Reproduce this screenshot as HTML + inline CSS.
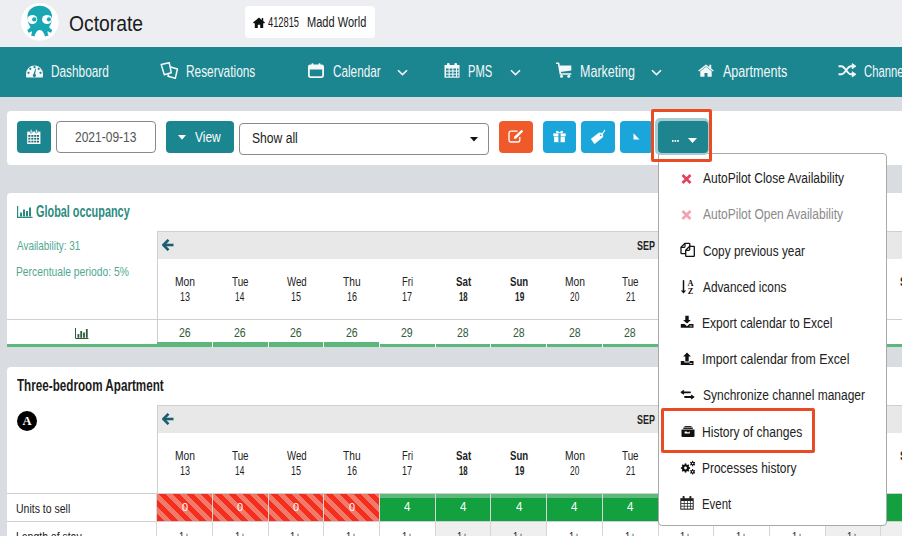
<!DOCTYPE html>
<html><head><meta charset="utf-8"><title>Octorate calendar</title>
<style>html,body{margin:0;padding:0;width:902px;height:536px;overflow:hidden;position:relative;background:#d9dce1;font-family:"Liberation Sans",sans-serif}</style>
</head><body>
<div style="position:absolute;left:0px;top:0px;width:902px;height:47px;background:#edeef2"></div>
<div style="position:absolute;left:0px;top:47px;width:902px;height:50px;background:#1b8590"></div>
<div style="position:absolute;left:0px;top:97px;width:902px;height:439px;background:#d9dce1"></div>
<svg style="position:absolute;left:20px;top:2px" width="40" height="40" viewBox="0 0 40 40">
<circle cx="19.8" cy="19.9" r="18.8" fill="#fff"/>
<path d="M19.7 3.7 C13 3.7 7.5 8 7.5 14 L8 20 C9 23 10 24 10.5 25 C9.5 26.5 8 27.5 7.3 28 L8.5 30.8 C10 30.2 11 29.6 12 29.2 C12 31 11.5 32.5 11 33.6 L14.6 34.6 C15 31.5 17 28 19.7 28 C22.5 28 24.5 31.5 25 34.6 L28.6 33.6 C28 32.5 27.5 31 27.5 29.2 C28.5 29.6 29.5 30.2 31 30.8 L32.3 28 C31.5 27.5 30 26.5 29 25 C29.5 24 30.5 23 31.5 20 L32 14 C32 8 26.5 3.7 19.7 3.7 Z" fill="#1aa7b4"/>
<ellipse cx="12.4" cy="17.5" rx="4.8" ry="4.5" fill="#fff"/>
<ellipse cx="27" cy="17.5" rx="5" ry="4.6" fill="#fff"/>
<circle cx="14.2" cy="17.4" r="2.1" fill="#1aa7b4"/>
<circle cx="28.9" cy="17.4" r="2.1" fill="#1aa7b4"/>
</svg>
<span style="position:absolute;white-space:nowrap;font-family:'Liberation Sans',sans-serif;font-size:22.32px;line-height:22.32px;font-weight:normal;color:#1b1b1b;left:69.13px;top:12.63px;transform:scaleX(0.8656);transform-origin:0 0">Octorate</span>
<div style="position:absolute;left:245px;top:6px;width:130px;height:32px;background:#fff;border-radius:4px"></div>
<svg style="position:absolute;left:253px;top:16.5px" width="12" height="11" viewBox="0 0 12 11"><path d="M6 0.5 L0 5.6 L1 6.6 L1.8 6 L1.8 11 L4.8 11 L4.8 7.8 L7.2 7.8 L7.2 11 L10.2 11 L10.2 6 L11 6.6 L12 5.6 L10.2 4.1 L10.2 1 L8.8 1 L8.8 2.9 Z" fill="#111"/></svg>
<span style="position:absolute;white-space:nowrap;font-family:'Liberation Sans',sans-serif;font-size:14.49px;line-height:14.49px;font-weight:normal;color:#1b1b1b;left:268.00px;top:14.98px;transform:scaleX(0.6421);transform-origin:0 0">412815</span>
<span style="position:absolute;white-space:nowrap;font-family:'Liberation Sans',sans-serif;font-size:14.49px;line-height:14.49px;font-weight:normal;color:#1b1b1b;left:307.24px;top:14.98px;transform:scaleX(0.7621);transform-origin:0 0">Madd World</span>
<svg style="position:absolute;left:26px;top:64px" width="17" height="14" viewBox="0 0 17 14">
<path d="M0.3 13.5 C0 12.5 0 11 0 10 A8.5 8.5 0 0 1 17 10 C17 11 17 12.5 16.7 13.5 Z" fill="#f4f8f9"/>
<circle cx="8.5" cy="3.2" r="1.1" fill="#1e8490"/><circle cx="4.3" cy="4.8" r="1.1" fill="#1e8490"/><circle cx="12.7" cy="4.8" r="1.1" fill="#1e8490"/>
<circle cx="2.5" cy="8.8" r="1.1" fill="#1e8490"/><circle cx="14.5" cy="8.8" r="1.1" fill="#1e8490"/>
<path d="M9.4 4.5 L10 4.7 L9.2 10 A1.6 1.6 0 1 1 7.6 10 Z" fill="#1e8490"/>
</svg>
<span style="position:absolute;white-space:nowrap;font-family:'Liberation Sans',sans-serif;font-size:16.23px;line-height:16.23px;font-weight:normal;color:#f4f8f9;left:50.87px;top:62.70px;transform:scaleX(0.7294);transform-origin:0 0">Dashboard</span>
<svg style="position:absolute;left:160px;top:62px" width="19" height="18" viewBox="0 0 19 18">
<path d="M1.2 2.4 L9.2 0.7 L11.3 10.7 L4.3 12.8 Z" fill="none" stroke="#f4f8f9" stroke-width="1.5" stroke-linejoin="round"/>
<path d="M10.6 5 L17.4 7 L15.3 16.3 L8 14.3 L8.5 12.3" fill="none" stroke="#f4f8f9" stroke-width="1.5" stroke-linejoin="round"/>
</svg>
<span style="position:absolute;white-space:nowrap;font-family:'Liberation Sans',sans-serif;font-size:16.23px;line-height:16.23px;font-weight:normal;color:#f4f8f9;left:185.77px;top:62.70px;transform:scaleX(0.7323);transform-origin:0 0">Reservations</span>
<svg style="position:absolute;left:308px;top:62px" width="16" height="16" viewBox="0 0 16 16">
<rect x="0.9" y="3.3" width="14.2" height="11.8" rx="1.5" fill="none" stroke="#f4f8f9" stroke-width="1.8"/>
<rect x="0.9" y="3.3" width="14.2" height="4.2" fill="#f4f8f9"/>
<rect x="3.6" y="1.2" width="1.8" height="3.5" rx="0.6" fill="#f4f8f9"/><rect x="10.6" y="1.2" width="1.8" height="3.5" rx="0.6" fill="#f4f8f9"/>
</svg>
<span style="position:absolute;white-space:nowrap;font-family:'Liberation Sans',sans-serif;font-size:16.23px;line-height:16.23px;font-weight:normal;color:#f4f8f9;left:332.50px;top:62.70px;transform:scaleX(0.7242);transform-origin:0 0">Calendar</span>
<svg style="position:absolute;left:397px;top:68.6px" width="11" height="7" viewBox="0 0 11 7"><path d="M1 1.2 L5.5 5.6 L10 1.2" stroke="#f4f8f9" stroke-width="1.6" fill="none"/></svg>
<svg style="position:absolute;left:444px;top:62px" width="16" height="16" viewBox="0 0 16 16">
<path d="M0.5 3 H15.5 V15.7 H0.5 Z" fill="#f4f8f9"/>
<rect x="3" y="1" width="2.6" height="3.6" rx="1" fill="#f4f8f9"/><rect x="10.4" y="1" width="2.6" height="3.6" rx="1" fill="#f4f8f9"/>
<g fill="#1e8490"><rect x="2" y="6.5" width="2.6" height="2"/><rect x="5.7" y="6.5" width="2.6" height="2"/><rect x="9.4" y="6.5" width="2.6" height="2"/><rect x="13" y="6.5" width="1.5" height="2"/>
<rect x="2" y="9.6" width="2.6" height="2"/><rect x="5.7" y="9.6" width="2.6" height="2"/><rect x="9.4" y="9.6" width="2.6" height="2"/><rect x="13" y="9.6" width="1.5" height="2"/>
<rect x="2" y="12.7" width="2.6" height="1.8"/><rect x="5.7" y="12.7" width="2.6" height="1.8"/><rect x="9.4" y="12.7" width="2.6" height="1.8"/><rect x="13" y="12.7" width="1.5" height="1.8"/></g>
</svg>
<span style="position:absolute;white-space:nowrap;font-family:'Liberation Sans',sans-serif;font-size:16.23px;line-height:16.23px;font-weight:normal;color:#f4f8f9;left:468.31px;top:62.70px;transform:scaleX(0.6904);transform-origin:0 0">PMS</span>
<svg style="position:absolute;left:509.5px;top:68.6px" width="11" height="7" viewBox="0 0 11 7"><path d="M1 1.2 L5.5 5.6 L10 1.2" stroke="#f4f8f9" stroke-width="1.6" fill="none"/></svg>
<svg style="position:absolute;left:556px;top:62px" width="16" height="16" viewBox="0 0 16 16">
<path d="M0.3 1.3 H2.6 L4.4 12 H14.7" fill="none" stroke="#f4f8f9" stroke-width="1.6" stroke-linecap="round" stroke-linejoin="round"/>
<path d="M3.2 3.4 H15.3 V8.6 L4.3 10 Z" fill="#f4f8f9"/>
<circle cx="5.5" cy="14.3" r="1.5" fill="#f4f8f9"/><circle cx="12.8" cy="14.3" r="1.5" fill="#f4f8f9"/>
</svg>
<span style="position:absolute;white-space:nowrap;font-family:'Liberation Sans',sans-serif;font-size:16.23px;line-height:16.23px;font-weight:normal;color:#f4f8f9;left:580.23px;top:62.70px;transform:scaleX(0.7718);transform-origin:0 0">Marketing</span>
<svg style="position:absolute;left:651px;top:68.6px" width="11" height="7" viewBox="0 0 11 7"><path d="M1 1.2 L5.5 5.6 L10 1.2" stroke="#f4f8f9" stroke-width="1.6" fill="none"/></svg>
<svg style="position:absolute;left:698px;top:64px" width="16" height="13" viewBox="0 0 16 13">
<path d="M8 0.4 L0.2 6.6 L1.1 7.6 L8 2.2 L14.9 7.6 L15.8 6.6 L13.2 4.5 L13.2 0.8 L11.3 0.8 L11.3 3 Z" fill="#f4f8f9"/>
<path d="M2.3 7.2 L8 2.8 L13.7 7.2 V12.8 H9.5 V9 H6.5 V12.8 H2.3 Z" fill="#f4f8f9"/>
</svg>
<span style="position:absolute;white-space:nowrap;font-family:'Liberation Sans',sans-serif;font-size:16.23px;line-height:16.23px;font-weight:normal;color:#f4f8f9;left:723.00px;top:62.70px;transform:scaleX(0.7740);transform-origin:0 0">Apartments</span>
<svg style="position:absolute;left:838px;top:62px" width="19" height="16" viewBox="0 0 19 16">
<path d="M0.5 4.2 H3.3 C7.5 4.2 8.8 12.3 13 12.3 H15" fill="none" stroke="#f4f8f9" stroke-width="1.9"/>
<path d="M0.5 12.3 H3.3 C7.5 12.3 8.8 4.2 13 4.2 H15" fill="none" stroke="#f4f8f9" stroke-width="1.9"/>
<path d="M14.2 1.6 L18 4.2 L14.2 6.8 Z" fill="#f4f8f9" stroke="#f4f8f9" stroke-width="0.8" stroke-linejoin="round"/><path d="M14.2 9.7 L18 12.3 L14.2 14.9 Z" fill="#f4f8f9" stroke="#f4f8f9" stroke-width="0.8" stroke-linejoin="round"/>
</svg>
<span style="position:absolute;white-space:nowrap;font-family:'Liberation Sans',sans-serif;font-size:16.23px;line-height:16.23px;font-weight:normal;color:#f4f8f9;left:864.00px;top:62.70px;transform:scaleX(0.6948);transform-origin:0 0">Channel manager</span>
<div style="position:absolute;left:7px;top:111px;width:895px;height:54px;background:#fff;border-radius:4px 0 0 4px"></div>
<div style="position:absolute;left:17px;top:121px;width:34px;height:32px;background:#1b8590;border-radius:4px"></div>
<svg style="position:absolute;left:27px;top:129px" width="14" height="16" viewBox="0 0 14 16">
<path d="M0.2 2.6 H13.4 V15 H0.2 Z" fill="#fff"/>
<rect x="3.3" y="0.6" width="1.8" height="3.6" rx="0.8" fill="#fff" stroke="#1b8590" stroke-width="0.7"/><rect x="8.5" y="0.6" width="1.8" height="3.6" rx="0.8" fill="#fff" stroke="#1b8590" stroke-width="0.7"/>
<g fill="#1f6f78"><rect x="1.3" y="6" width="2.1" height="1.8"/><rect x="4.3" y="6" width="2.1" height="1.8"/><rect x="7.2" y="6" width="2.1" height="1.8"/><rect x="10" y="6" width="2.0" height="1.8"/><rect x="1.3" y="8.8" width="2.1" height="1.8"/><rect x="4.3" y="8.8" width="2.1" height="1.8"/><rect x="7.2" y="8.8" width="2.1" height="1.8"/><rect x="10" y="8.8" width="2.0" height="1.8"/><rect x="1.3" y="11.7" width="2.1" height="1.8"/><rect x="4.3" y="11.7" width="2.1" height="1.8"/><rect x="7.2" y="11.7" width="2.1" height="1.8"/><rect x="10" y="11.7" width="2.0" height="1.8"/></g>
</svg>
<div style="position:absolute;left:56px;top:121px;width:100px;height:32px;box-sizing:border-box;border:1px solid #8a8a8a;border-radius:4px;background:#fff"></div>
<span style="position:absolute;white-space:nowrap;font-family:'Liberation Sans',sans-serif;font-size:14.20px;line-height:14.20px;font-weight:normal;color:#555;left:74.50px;top:129.93px;transform:scaleX(0.8462);transform-origin:0 0">2021-09-13</span>
<div style="position:absolute;left:166px;top:121px;width:68px;height:32px;background:#1b8590;border-radius:4px"></div>
<svg style="position:absolute;left:177.5px;top:135px" width="8" height="5" viewBox="0 0 8 5"><path d="M0 0 H8 L4 4.8 Z" fill="#fff"/></svg>
<span style="position:absolute;white-space:nowrap;font-family:'Liberation Sans',sans-serif;font-size:15.22px;line-height:15.22px;font-weight:normal;color:#fff;left:194.50px;top:129.07px;transform:scaleX(0.7864);transform-origin:0 0">View</span>
<div style="position:absolute;left:239px;top:123px;width:250px;height:32px;box-sizing:border-box;border:1px solid #8a8a8a;border-radius:4px;background:#fff"></div>
<span style="position:absolute;white-space:nowrap;font-family:'Liberation Sans',sans-serif;font-size:14.93px;line-height:14.93px;font-weight:normal;color:#222;left:252.00px;top:131.31px;transform:scaleX(0.8121);transform-origin:0 0">Show all</span>
<svg style="position:absolute;left:470px;top:136.8px" width="8" height="5" viewBox="0 0 8 5"><path d="M0 0 H8 L4 4.6 Z" fill="#111"/></svg>
<div style="position:absolute;left:499px;top:121px;width:34px;height:32px;background:#f05a2a;border-radius:4px"></div>
<svg style="position:absolute;left:508px;top:129.3px" width="16" height="14" viewBox="0 0 16 14">
<path d="M9.5 2.2 H3 A2 2 0 0 0 1 4.2 V11 A2 2 0 0 0 3 13 H9.8 A2 2 0 0 0 11.8 11 V8" fill="none" stroke="#fff" stroke-width="1.3"/>
<path d="M13.6 0.8 L15.2 2.4 L8.2 9.4 L5.8 10 L6.4 7.6 Z" fill="#fff"/>
</svg>
<div style="position:absolute;left:543px;top:121px;width:33px;height:32px;background:#1aa6da;border-radius:4px"></div>
<svg style="position:absolute;left:553px;top:130px" width="13" height="13" viewBox="0 0 13 13">
<path d="M3.5 3 C2 1 4 0 5.2 1.2 L6.5 2.6 L7.8 1.2 C9 0 11 1 9.5 3 Z" fill="#fff"/>
<rect x="0.3" y="3.4" width="12.4" height="2.8" fill="#fff"/><rect x="1.1" y="6.6" width="10.8" height="5.6" fill="#fff"/>
<rect x="5.4" y="3.4" width="2.2" height="8.8" fill="#1aa6da"/>
</svg>
<div style="position:absolute;left:581px;top:121px;width:34px;height:32px;background:#1aa6da;border-radius:4px"></div>
<svg style="position:absolute;left:590px;top:129px" width="17" height="16" viewBox="0 0 17 16">
<path d="M1.2 9.9 L8.9 3.9 L12.4 4.3 L12.9 7.9 L4.5 14.8 Z" fill="#fff" stroke="#fff" stroke-width="0.6" stroke-linejoin="round"/>
<circle cx="10.8" cy="6.1" r="0.9" fill="#1aa6da"/>
<path d="M10.9 6 C12.5 5 13.8 3 14.9 0.9" fill="none" stroke="#fff" stroke-width="1.1"/>
</svg>
<div style="position:absolute;left:620px;top:121px;width:33px;height:32px;background:#1aa6da;border-radius:4px"></div>
<svg style="position:absolute;left:633px;top:133px" width="7" height="7" viewBox="0 0 7 7"><path d="M0.5 0.3 L6.5 6.5 H0.5 Z" fill="#fff"/></svg>
<div style="position:absolute;z-index:5;left:655px;top:118px;width:54px;height:37px;background:#a6cdd2;border-radius:5px"></div>
<div style="position:absolute;z-index:5;left:658px;top:121px;width:50px;height:32px;background:#1e8490;border-radius:4px"></div>
<svg style="position:absolute;z-index:6;left:672px;top:140px" width="7" height="2" viewBox="0 0 7 2"><rect x="0" y="0" width="1.6" height="1.8" fill="#fff"/><rect x="2.6" y="0" width="1.6" height="1.8" fill="#fff"/><rect x="5.2" y="0" width="1.6" height="1.8" fill="#fff"/></svg>
<svg style="position:absolute;z-index:6;left:688px;top:138px" width="9" height="5" viewBox="0 0 9 5"><path d="M0 0 H9 L4.5 5 Z" fill="#fff"/></svg>
<div style="position:absolute;left:651px;top:109px;width:61px;height:53px;z-index:7;box-sizing:border-box;border:3px solid #e94b25;border-radius:2px"></div>
<div style="position:absolute;left:7px;top:193px;width:895px;height:154px;background:#fff;border-radius:4px 0 0 0"></div>
<svg style="position:absolute;left:17px;top:206px" width="16" height="12" viewBox="0 0 16 12">
<path d="M0.6 0 V11.4 H15.5" fill="none" stroke="#2c8b80" stroke-width="1.2"/>
<rect x="3" y="6.5" width="2" height="4" fill="#2c8b80"/><rect x="6" y="3.5" width="2" height="7" fill="#2c8b80"/><rect x="9" y="5" width="2" height="5.5" fill="#2c8b80"/><rect x="12" y="1.5" width="2" height="9" fill="#2c8b80"/>
</svg>
<span style="position:absolute;white-space:nowrap;font-family:'Liberation Sans',sans-serif;font-size:15.94px;line-height:15.94px;font-weight:bold;color:#2c8b80;left:36.00px;top:203.75px;transform:scaleX(0.6826);transform-origin:0 0">Global occupancy</span>
<span style="position:absolute;white-space:nowrap;font-family:'Liberation Sans',sans-serif;font-size:13.04px;line-height:13.04px;font-weight:normal;color:#52a893;left:17.20px;top:239.21px;transform:scaleX(0.7607);transform-origin:0 0">Availability: 31</span>
<span style="position:absolute;white-space:nowrap;font-family:'Liberation Sans',sans-serif;font-size:13.04px;line-height:13.04px;font-weight:normal;color:#52a893;left:16.41px;top:264.91px;transform:scaleX(0.7908);transform-origin:0 0">Percentuale periodo: 5%</span>
<div style="position:absolute;left:156.5px;top:231px;width:745.5px;height:1px;background:#cfcfcf"></div>
<div style="position:absolute;left:156.5px;top:231px;width:1px;height:113px;background:#cfcfcf"></div>
<div style="position:absolute;left:157.5px;top:232px;width:745.5px;height:27px;background:#e8e8e8"></div>
<svg style="position:absolute;left:161.5px;top:238.5px" width="12" height="12" viewBox="0 0 12 12">
<path d="M11.5 6 H3" stroke="#1d5f6e" stroke-width="2.6" fill="none"/><path d="M6.5 0.8 L1.3 6 L6.5 11.2" stroke="#1d5f6e" stroke-width="2.6" fill="none" stroke-linejoin="miter"/>
</svg>
<span style="position:absolute;white-space:nowrap;font-family:'Liberation Sans',sans-serif;font-size:12.75px;line-height:12.75px;font-weight:bold;color:#222;left:637.00px;top:239.76px;transform:scaleX(0.6998);transform-origin:0 0">SEP</span>
<span style="position:absolute;white-space:nowrap;font-family:'Liberation Sans',sans-serif;font-size:13.48px;line-height:13.48px;font-weight:normal;color:#222;left:174.64px;top:274.84px;transform:scaleX(0.7649);transform-origin:0 0">Mon</span>
<span style="position:absolute;white-space:nowrap;font-family:'Liberation Sans',sans-serif;font-size:13.48px;line-height:13.48px;font-weight:normal;color:#222;left:179.68px;top:289.94px;transform:scaleX(0.6671);transform-origin:0 0">13</span>
<span style="position:absolute;white-space:nowrap;font-family:'Liberation Sans',sans-serif;font-size:13.48px;line-height:13.48px;font-weight:normal;color:#222;left:232.45px;top:274.84px;transform:scaleX(0.7291);transform-origin:0 0">Tue</span>
<span style="position:absolute;white-space:nowrap;font-family:'Liberation Sans',sans-serif;font-size:13.48px;line-height:13.48px;font-weight:normal;color:#222;left:235.43px;top:289.94px;transform:scaleX(0.6211);transform-origin:0 0">14</span>
<span style="position:absolute;white-space:nowrap;font-family:'Liberation Sans',sans-serif;font-size:13.48px;line-height:13.48px;font-weight:normal;color:#222;left:286.60px;top:274.84px;transform:scaleX(0.7159);transform-origin:0 0">Wed</span>
<span style="position:absolute;white-space:nowrap;font-family:'Liberation Sans',sans-serif;font-size:13.48px;line-height:13.48px;font-weight:normal;color:#222;left:291.08px;top:289.94px;transform:scaleX(0.6671);transform-origin:0 0">15</span>
<span style="position:absolute;white-space:nowrap;font-family:'Liberation Sans',sans-serif;font-size:13.48px;line-height:13.48px;font-weight:normal;color:#222;left:343.35px;top:274.84px;transform:scaleX(0.7571);transform-origin:0 0">Thu</span>
<span style="position:absolute;white-space:nowrap;font-family:'Liberation Sans',sans-serif;font-size:13.48px;line-height:13.48px;font-weight:normal;color:#222;left:346.78px;top:289.94px;transform:scaleX(0.6671);transform-origin:0 0">16</span>
<span style="position:absolute;white-space:nowrap;font-family:'Liberation Sans',sans-serif;font-size:13.48px;line-height:13.48px;font-weight:normal;color:#222;left:401.80px;top:274.84px;transform:scaleX(0.7001);transform-origin:0 0">Fri</span>
<span style="position:absolute;white-space:nowrap;font-family:'Liberation Sans',sans-serif;font-size:13.48px;line-height:13.48px;font-weight:normal;color:#222;left:402.48px;top:289.94px;transform:scaleX(0.6671);transform-origin:0 0">17</span>
<span style="position:absolute;white-space:nowrap;font-family:'Liberation Sans',sans-serif;font-size:13.48px;line-height:13.48px;font-weight:bold;color:#222;left:455.60px;top:274.84px;transform:scaleX(0.7218);transform-origin:0 0">Sat</span>
<span style="position:absolute;white-space:nowrap;font-family:'Liberation Sans',sans-serif;font-size:13.48px;line-height:13.48px;font-weight:bold;color:#222;left:458.85px;top:289.94px;transform:scaleX(0.5810);transform-origin:0 0">18</span>
<span style="position:absolute;white-space:nowrap;font-family:'Liberation Sans',sans-serif;font-size:13.48px;line-height:13.48px;font-weight:bold;color:#222;left:510.05px;top:274.84px;transform:scaleX(0.7140);transform-origin:0 0">Sun</span>
<span style="position:absolute;white-space:nowrap;font-family:'Liberation Sans',sans-serif;font-size:13.48px;line-height:13.48px;font-weight:bold;color:#222;left:514.55px;top:289.94px;transform:scaleX(0.6211);transform-origin:0 0">19</span>
<span style="position:absolute;white-space:nowrap;font-family:'Liberation Sans',sans-serif;font-size:13.48px;line-height:13.48px;font-weight:normal;color:#222;left:564.54px;top:274.84px;transform:scaleX(0.7649);transform-origin:0 0">Mon</span>
<span style="position:absolute;white-space:nowrap;font-family:'Liberation Sans',sans-serif;font-size:13.48px;line-height:13.48px;font-weight:normal;color:#222;left:570.25px;top:289.94px;transform:scaleX(0.6211);transform-origin:0 0">20</span>
<span style="position:absolute;white-space:nowrap;font-family:'Liberation Sans',sans-serif;font-size:13.48px;line-height:13.48px;font-weight:normal;color:#222;left:622.35px;top:274.84px;transform:scaleX(0.7291);transform-origin:0 0">Tue</span>
<span style="position:absolute;white-space:nowrap;font-family:'Liberation Sans',sans-serif;font-size:13.48px;line-height:13.48px;font-weight:normal;color:#222;left:625.95px;top:289.94px;transform:scaleX(0.6211);transform-origin:0 0">21</span>
<span style="position:absolute;white-space:nowrap;font-family:'Liberation Sans',sans-serif;font-size:13.48px;line-height:13.48px;font-weight:normal;color:#222;left:676.50px;top:274.84px;transform:scaleX(0.7159);transform-origin:0 0">Wed</span>
<span style="position:absolute;white-space:nowrap;font-family:'Liberation Sans',sans-serif;font-size:13.48px;line-height:13.48px;font-weight:normal;color:#222;left:681.65px;top:289.94px;transform:scaleX(0.6211);transform-origin:0 0">22</span>
<span style="position:absolute;white-space:nowrap;font-family:'Liberation Sans',sans-serif;font-size:13.48px;line-height:13.48px;font-weight:normal;color:#222;left:733.25px;top:274.84px;transform:scaleX(0.7571);transform-origin:0 0">Thu</span>
<span style="position:absolute;white-space:nowrap;font-family:'Liberation Sans',sans-serif;font-size:13.48px;line-height:13.48px;font-weight:normal;color:#222;left:737.35px;top:289.94px;transform:scaleX(0.6211);transform-origin:0 0">23</span>
<span style="position:absolute;white-space:nowrap;font-family:'Liberation Sans',sans-serif;font-size:13.48px;line-height:13.48px;font-weight:normal;color:#222;left:791.70px;top:274.84px;transform:scaleX(0.7001);transform-origin:0 0">Fri</span>
<span style="position:absolute;white-space:nowrap;font-family:'Liberation Sans',sans-serif;font-size:13.48px;line-height:13.48px;font-weight:normal;color:#222;left:793.05px;top:289.94px;transform:scaleX(0.5810);transform-origin:0 0">24</span>
<span style="position:absolute;white-space:nowrap;font-family:'Liberation Sans',sans-serif;font-size:13.48px;line-height:13.48px;font-weight:bold;color:#222;left:845.50px;top:274.84px;transform:scaleX(0.7218);transform-origin:0 0">Sat</span>
<span style="position:absolute;white-space:nowrap;font-family:'Liberation Sans',sans-serif;font-size:13.48px;line-height:13.48px;font-weight:bold;color:#222;left:848.75px;top:289.94px;transform:scaleX(0.5810);transform-origin:0 0">25</span>
<span style="position:absolute;white-space:nowrap;font-family:'Liberation Sans',sans-serif;font-size:13.48px;line-height:13.48px;font-weight:bold;color:#222;left:899.95px;top:274.84px;transform:scaleX(0.7140);transform-origin:0 0">Sun</span>
<span style="position:absolute;white-space:nowrap;font-family:'Liberation Sans',sans-serif;font-size:13.48px;line-height:13.48px;font-weight:bold;color:#222;left:904.45px;top:289.94px;transform:scaleX(0.6211);transform-origin:0 0">26</span>
<div style="position:absolute;left:7px;top:319px;width:895px;height:1px;background:#cfcfcf"></div>
<svg style="position:absolute;left:75px;top:328px" width="14" height="11" viewBox="0 0 14 11">
<path d="M0.5 0 V10.5 H13.5" fill="none" stroke="#2d5a3a" stroke-width="1"/>
<rect x="2.5" y="6" width="1.8" height="3.8" fill="#2d5a3a"/><rect x="5.3" y="3" width="1.8" height="6.8" fill="#2d5a3a"/><rect x="8.1" y="4.5" width="1.8" height="5.3" fill="#2d5a3a"/><rect x="10.9" y="1" width="1.8" height="8.8" fill="#2d5a3a"/>
</svg>
<div style="position:absolute;left:7px;top:344px;width:149.5px;height:3px;background:#5cb87a"></div>
<span style="position:absolute;white-space:nowrap;font-family:'Liberation Sans',sans-serif;font-size:13.04px;line-height:13.04px;font-weight:normal;color:#2f5b3a;left:178.60px;top:325.91px;transform:scaleX(0.8072);transform-origin:0 0">26</span>
<div style="position:absolute;left:157px;top:342px;width:55px;height:5px;background:#5cb87a"></div>
<span style="position:absolute;white-space:nowrap;font-family:'Liberation Sans',sans-serif;font-size:13.04px;line-height:13.04px;font-weight:normal;color:#2f5b3a;left:234.30px;top:325.91px;transform:scaleX(0.8072);transform-origin:0 0">26</span>
<div style="position:absolute;left:213px;top:342px;width:55px;height:5px;background:#5cb87a"></div>
<span style="position:absolute;white-space:nowrap;font-family:'Liberation Sans',sans-serif;font-size:13.04px;line-height:13.04px;font-weight:normal;color:#2f5b3a;left:290.00px;top:325.91px;transform:scaleX(0.8072);transform-origin:0 0">26</span>
<div style="position:absolute;left:269px;top:342px;width:54px;height:5px;background:#5cb87a"></div>
<span style="position:absolute;white-space:nowrap;font-family:'Liberation Sans',sans-serif;font-size:13.04px;line-height:13.04px;font-weight:normal;color:#2f5b3a;left:345.70px;top:325.91px;transform:scaleX(0.8072);transform-origin:0 0">26</span>
<div style="position:absolute;left:324px;top:342px;width:55px;height:5px;background:#5cb87a"></div>
<span style="position:absolute;white-space:nowrap;font-family:'Liberation Sans',sans-serif;font-size:13.04px;line-height:13.04px;font-weight:normal;color:#2f5b3a;left:401.40px;top:325.91px;transform:scaleX(0.8072);transform-origin:0 0">29</span>
<div style="position:absolute;left:380px;top:344px;width:55px;height:3px;background:#5cb87a"></div>
<span style="position:absolute;white-space:nowrap;font-family:'Liberation Sans',sans-serif;font-size:13.04px;line-height:13.04px;font-weight:normal;color:#2f5b3a;left:457.10px;top:325.91px;transform:scaleX(0.8072);transform-origin:0 0">28</span>
<div style="position:absolute;left:436px;top:344px;width:54px;height:3px;background:#5cb87a"></div>
<span style="position:absolute;white-space:nowrap;font-family:'Liberation Sans',sans-serif;font-size:13.04px;line-height:13.04px;font-weight:normal;color:#2f5b3a;left:512.80px;top:325.91px;transform:scaleX(0.8072);transform-origin:0 0">28</span>
<div style="position:absolute;left:491px;top:344px;width:55px;height:3px;background:#5cb87a"></div>
<span style="position:absolute;white-space:nowrap;font-family:'Liberation Sans',sans-serif;font-size:13.04px;line-height:13.04px;font-weight:normal;color:#2f5b3a;left:568.50px;top:325.91px;transform:scaleX(0.8072);transform-origin:0 0">28</span>
<div style="position:absolute;left:547px;top:344px;width:55px;height:3px;background:#5cb87a"></div>
<span style="position:absolute;white-space:nowrap;font-family:'Liberation Sans',sans-serif;font-size:13.04px;line-height:13.04px;font-weight:normal;color:#2f5b3a;left:624.20px;top:325.91px;transform:scaleX(0.8072);transform-origin:0 0">28</span>
<div style="position:absolute;left:603px;top:344px;width:55px;height:3px;background:#5cb87a"></div>
<span style="position:absolute;white-space:nowrap;font-family:'Liberation Sans',sans-serif;font-size:13.04px;line-height:13.04px;font-weight:normal;color:#2f5b3a;left:679.90px;top:325.91px;transform:scaleX(0.8072);transform-origin:0 0">28</span>
<div style="position:absolute;left:659px;top:344px;width:54px;height:3px;background:#5cb87a"></div>
<span style="position:absolute;white-space:nowrap;font-family:'Liberation Sans',sans-serif;font-size:13.04px;line-height:13.04px;font-weight:normal;color:#2f5b3a;left:735.60px;top:325.91px;transform:scaleX(0.8072);transform-origin:0 0">28</span>
<div style="position:absolute;left:714px;top:344px;width:55px;height:3px;background:#5cb87a"></div>
<span style="position:absolute;white-space:nowrap;font-family:'Liberation Sans',sans-serif;font-size:13.04px;line-height:13.04px;font-weight:normal;color:#2f5b3a;left:791.30px;top:325.91px;transform:scaleX(0.8072);transform-origin:0 0">28</span>
<div style="position:absolute;left:770px;top:344px;width:55px;height:3px;background:#5cb87a"></div>
<span style="position:absolute;white-space:nowrap;font-family:'Liberation Sans',sans-serif;font-size:13.04px;line-height:13.04px;font-weight:normal;color:#2f5b3a;left:847.00px;top:325.91px;transform:scaleX(0.8072);transform-origin:0 0">28</span>
<div style="position:absolute;left:826px;top:344px;width:54px;height:3px;background:#5cb87a"></div>
<span style="position:absolute;white-space:nowrap;font-family:'Liberation Sans',sans-serif;font-size:13.04px;line-height:13.04px;font-weight:normal;color:#2f5b3a;left:902.70px;top:325.91px;transform:scaleX(0.8072);transform-origin:0 0">28</span>
<div style="position:absolute;left:881px;top:344px;width:55px;height:3px;background:#5cb87a"></div>
<div style="position:absolute;left:7px;top:367px;width:895px;height:169px;background:#fff;border-radius:4px 0 0 0"></div>
<span style="position:absolute;white-space:nowrap;font-family:'Liberation Sans',sans-serif;font-size:15.65px;line-height:15.65px;font-weight:bold;color:#1b1b1b;left:17.30px;top:377.50px;transform:scaleX(0.7457);transform-origin:0 0">Three-bedroom Apartment</span>
<div style="position:absolute;left:17px;top:410.5px;width:20px;height:20px;border-radius:50%;background:#000"></div>
<div style="position:absolute;left:17px;top:412px;width:20px;height:18px;text-align:center;font:bold 12.5px/19px 'Liberation Serif',serif;color:#fff">A</div>
<div style="position:absolute;left:156.5px;top:405px;width:745.5px;height:1px;background:#cfcfcf"></div>
<div style="position:absolute;left:156.5px;top:405px;width:1px;height:89px;background:#cfcfcf"></div>
<div style="position:absolute;left:157.5px;top:406px;width:745.5px;height:27px;background:#e8e8e8"></div>
<svg style="position:absolute;left:161.5px;top:412.5px" width="12" height="12" viewBox="0 0 12 12">
<path d="M11.5 6 H3" stroke="#1d5f6e" stroke-width="2.6" fill="none"/><path d="M6.5 0.8 L1.3 6 L6.5 11.2" stroke="#1d5f6e" stroke-width="2.6" fill="none" stroke-linejoin="miter"/>
</svg>
<span style="position:absolute;white-space:nowrap;font-family:'Liberation Sans',sans-serif;font-size:12.75px;line-height:12.75px;font-weight:bold;color:#222;left:637.00px;top:413.76px;transform:scaleX(0.6998);transform-origin:0 0">SEP</span>
<span style="position:absolute;white-space:nowrap;font-family:'Liberation Sans',sans-serif;font-size:13.48px;line-height:13.48px;font-weight:normal;color:#222;left:174.64px;top:448.84px;transform:scaleX(0.7649);transform-origin:0 0">Mon</span>
<span style="position:absolute;white-space:nowrap;font-family:'Liberation Sans',sans-serif;font-size:13.48px;line-height:13.48px;font-weight:normal;color:#222;left:179.68px;top:463.94px;transform:scaleX(0.6671);transform-origin:0 0">13</span>
<span style="position:absolute;white-space:nowrap;font-family:'Liberation Sans',sans-serif;font-size:13.48px;line-height:13.48px;font-weight:normal;color:#222;left:232.45px;top:448.84px;transform:scaleX(0.7291);transform-origin:0 0">Tue</span>
<span style="position:absolute;white-space:nowrap;font-family:'Liberation Sans',sans-serif;font-size:13.48px;line-height:13.48px;font-weight:normal;color:#222;left:235.43px;top:463.94px;transform:scaleX(0.6211);transform-origin:0 0">14</span>
<span style="position:absolute;white-space:nowrap;font-family:'Liberation Sans',sans-serif;font-size:13.48px;line-height:13.48px;font-weight:normal;color:#222;left:286.60px;top:448.84px;transform:scaleX(0.7159);transform-origin:0 0">Wed</span>
<span style="position:absolute;white-space:nowrap;font-family:'Liberation Sans',sans-serif;font-size:13.48px;line-height:13.48px;font-weight:normal;color:#222;left:291.08px;top:463.94px;transform:scaleX(0.6671);transform-origin:0 0">15</span>
<span style="position:absolute;white-space:nowrap;font-family:'Liberation Sans',sans-serif;font-size:13.48px;line-height:13.48px;font-weight:normal;color:#222;left:343.35px;top:448.84px;transform:scaleX(0.7571);transform-origin:0 0">Thu</span>
<span style="position:absolute;white-space:nowrap;font-family:'Liberation Sans',sans-serif;font-size:13.48px;line-height:13.48px;font-weight:normal;color:#222;left:346.78px;top:463.94px;transform:scaleX(0.6671);transform-origin:0 0">16</span>
<span style="position:absolute;white-space:nowrap;font-family:'Liberation Sans',sans-serif;font-size:13.48px;line-height:13.48px;font-weight:normal;color:#222;left:401.80px;top:448.84px;transform:scaleX(0.7001);transform-origin:0 0">Fri</span>
<span style="position:absolute;white-space:nowrap;font-family:'Liberation Sans',sans-serif;font-size:13.48px;line-height:13.48px;font-weight:normal;color:#222;left:402.48px;top:463.94px;transform:scaleX(0.6671);transform-origin:0 0">17</span>
<span style="position:absolute;white-space:nowrap;font-family:'Liberation Sans',sans-serif;font-size:13.48px;line-height:13.48px;font-weight:bold;color:#222;left:455.60px;top:448.84px;transform:scaleX(0.7218);transform-origin:0 0">Sat</span>
<span style="position:absolute;white-space:nowrap;font-family:'Liberation Sans',sans-serif;font-size:13.48px;line-height:13.48px;font-weight:bold;color:#222;left:458.85px;top:463.94px;transform:scaleX(0.5810);transform-origin:0 0">18</span>
<span style="position:absolute;white-space:nowrap;font-family:'Liberation Sans',sans-serif;font-size:13.48px;line-height:13.48px;font-weight:bold;color:#222;left:510.05px;top:448.84px;transform:scaleX(0.7140);transform-origin:0 0">Sun</span>
<span style="position:absolute;white-space:nowrap;font-family:'Liberation Sans',sans-serif;font-size:13.48px;line-height:13.48px;font-weight:bold;color:#222;left:514.55px;top:463.94px;transform:scaleX(0.6211);transform-origin:0 0">19</span>
<span style="position:absolute;white-space:nowrap;font-family:'Liberation Sans',sans-serif;font-size:13.48px;line-height:13.48px;font-weight:normal;color:#222;left:564.54px;top:448.84px;transform:scaleX(0.7649);transform-origin:0 0">Mon</span>
<span style="position:absolute;white-space:nowrap;font-family:'Liberation Sans',sans-serif;font-size:13.48px;line-height:13.48px;font-weight:normal;color:#222;left:570.25px;top:463.94px;transform:scaleX(0.6211);transform-origin:0 0">20</span>
<span style="position:absolute;white-space:nowrap;font-family:'Liberation Sans',sans-serif;font-size:13.48px;line-height:13.48px;font-weight:normal;color:#222;left:622.35px;top:448.84px;transform:scaleX(0.7291);transform-origin:0 0">Tue</span>
<span style="position:absolute;white-space:nowrap;font-family:'Liberation Sans',sans-serif;font-size:13.48px;line-height:13.48px;font-weight:normal;color:#222;left:625.95px;top:463.94px;transform:scaleX(0.6211);transform-origin:0 0">21</span>
<span style="position:absolute;white-space:nowrap;font-family:'Liberation Sans',sans-serif;font-size:13.48px;line-height:13.48px;font-weight:normal;color:#222;left:676.50px;top:448.84px;transform:scaleX(0.7159);transform-origin:0 0">Wed</span>
<span style="position:absolute;white-space:nowrap;font-family:'Liberation Sans',sans-serif;font-size:13.48px;line-height:13.48px;font-weight:normal;color:#222;left:681.65px;top:463.94px;transform:scaleX(0.6211);transform-origin:0 0">22</span>
<span style="position:absolute;white-space:nowrap;font-family:'Liberation Sans',sans-serif;font-size:13.48px;line-height:13.48px;font-weight:normal;color:#222;left:733.25px;top:448.84px;transform:scaleX(0.7571);transform-origin:0 0">Thu</span>
<span style="position:absolute;white-space:nowrap;font-family:'Liberation Sans',sans-serif;font-size:13.48px;line-height:13.48px;font-weight:normal;color:#222;left:737.35px;top:463.94px;transform:scaleX(0.6211);transform-origin:0 0">23</span>
<span style="position:absolute;white-space:nowrap;font-family:'Liberation Sans',sans-serif;font-size:13.48px;line-height:13.48px;font-weight:normal;color:#222;left:791.70px;top:448.84px;transform:scaleX(0.7001);transform-origin:0 0">Fri</span>
<span style="position:absolute;white-space:nowrap;font-family:'Liberation Sans',sans-serif;font-size:13.48px;line-height:13.48px;font-weight:normal;color:#222;left:793.05px;top:463.94px;transform:scaleX(0.5810);transform-origin:0 0">24</span>
<span style="position:absolute;white-space:nowrap;font-family:'Liberation Sans',sans-serif;font-size:13.48px;line-height:13.48px;font-weight:bold;color:#222;left:845.50px;top:448.84px;transform:scaleX(0.7218);transform-origin:0 0">Sat</span>
<span style="position:absolute;white-space:nowrap;font-family:'Liberation Sans',sans-serif;font-size:13.48px;line-height:13.48px;font-weight:bold;color:#222;left:848.75px;top:463.94px;transform:scaleX(0.5810);transform-origin:0 0">25</span>
<span style="position:absolute;white-space:nowrap;font-family:'Liberation Sans',sans-serif;font-size:13.48px;line-height:13.48px;font-weight:bold;color:#222;left:899.95px;top:448.84px;transform:scaleX(0.7140);transform-origin:0 0">Sun</span>
<span style="position:absolute;white-space:nowrap;font-family:'Liberation Sans',sans-serif;font-size:13.48px;line-height:13.48px;font-weight:bold;color:#222;left:904.45px;top:463.94px;transform:scaleX(0.6211);transform-origin:0 0">26</span>
<div style="position:absolute;left:7px;top:493px;width:895px;height:1px;background:#cfcfcf"></div>
<div style="position:absolute;left:7px;top:521px;width:895px;height:1px;background:#cfcfcf"></div>
<span style="position:absolute;white-space:nowrap;font-family:'Liberation Sans',sans-serif;font-size:13.62px;line-height:13.62px;font-weight:normal;color:#222;left:16.23px;top:501.82px;transform:scaleX(0.7718);transform-origin:0 0">Units to sell</span>
<span style="position:absolute;white-space:nowrap;font-family:'Liberation Sans',sans-serif;font-size:13.62px;line-height:13.62px;font-weight:normal;color:#222;left:16.43px;top:530.42px;transform:scaleX(0.7675);transform-origin:0 0">Length of stay</span>
<div style="position:absolute;left:157px;top:494px;width:55px;height:27px;background:repeating-linear-gradient(45deg,#f42d1c 0 5px,#f27a6b 5px 10px)"></div>
<span style="position:absolute;white-space:nowrap;font-family:'Liberation Sans',sans-serif;font-size:11.30px;line-height:11.30px;font-weight:normal;color:#fff;left:181.75px;top:502.09px;transform:scaleX(0.9667);transform-origin:0 0">0</span>
<div style="position:absolute;left:156px;top:494px;width:1px;height:42px;background:#d6d6d6"></div>
<span style="position:absolute;white-space:nowrap;font-family:'Liberation Sans',sans-serif;font-size:13.62px;line-height:13.62px;font-weight:normal;color:#222;left:178.96px;top:530.42px;transform:scaleX(0.6864);transform-origin:0 0">1+</span>
<div style="position:absolute;left:213px;top:494px;width:55px;height:27px;background:repeating-linear-gradient(45deg,#f42d1c 0 5px,#f27a6b 5px 10px)"></div>
<span style="position:absolute;white-space:nowrap;font-family:'Liberation Sans',sans-serif;font-size:11.30px;line-height:11.30px;font-weight:normal;color:#fff;left:237.45px;top:502.09px;transform:scaleX(0.9667);transform-origin:0 0">0</span>
<div style="position:absolute;left:212px;top:494px;width:1px;height:42px;background:#d6d6d6"></div>
<span style="position:absolute;white-space:nowrap;font-family:'Liberation Sans',sans-serif;font-size:13.62px;line-height:13.62px;font-weight:normal;color:#222;left:234.66px;top:530.42px;transform:scaleX(0.6864);transform-origin:0 0">1+</span>
<div style="position:absolute;left:269px;top:494px;width:54px;height:27px;background:repeating-linear-gradient(45deg,#f42d1c 0 5px,#f27a6b 5px 10px)"></div>
<span style="position:absolute;white-space:nowrap;font-family:'Liberation Sans',sans-serif;font-size:11.30px;line-height:11.30px;font-weight:normal;color:#fff;left:293.15px;top:502.09px;transform:scaleX(0.9667);transform-origin:0 0">0</span>
<div style="position:absolute;left:268px;top:494px;width:1px;height:42px;background:#d6d6d6"></div>
<span style="position:absolute;white-space:nowrap;font-family:'Liberation Sans',sans-serif;font-size:13.62px;line-height:13.62px;font-weight:normal;color:#222;left:290.36px;top:530.42px;transform:scaleX(0.6864);transform-origin:0 0">1+</span>
<div style="position:absolute;left:324px;top:494px;width:55px;height:27px;background:repeating-linear-gradient(45deg,#f42d1c 0 5px,#f27a6b 5px 10px)"></div>
<span style="position:absolute;white-space:nowrap;font-family:'Liberation Sans',sans-serif;font-size:11.30px;line-height:11.30px;font-weight:normal;color:#fff;left:348.85px;top:502.09px;transform:scaleX(0.9667);transform-origin:0 0">0</span>
<div style="position:absolute;left:323px;top:494px;width:1px;height:42px;background:#d6d6d6"></div>
<span style="position:absolute;white-space:nowrap;font-family:'Liberation Sans',sans-serif;font-size:13.62px;line-height:13.62px;font-weight:normal;color:#222;left:346.06px;top:530.42px;transform:scaleX(0.6864);transform-origin:0 0">1+</span>
<div style="position:absolute;left:380px;top:494px;width:55px;height:27px;background:#13a03e"></div>
<div style="position:absolute;left:380px;top:494px;width:55px;height:4px;background:#5fb97d"></div>
<span style="position:absolute;white-space:nowrap;font-family:'Liberation Sans',sans-serif;font-size:12.32px;line-height:12.32px;font-weight:normal;color:#fff;left:404.20px;top:501.33px;transform:scaleX(0.9286);transform-origin:0 0">4</span>
<div style="position:absolute;left:379px;top:494px;width:1px;height:42px;background:#d6d6d6"></div>
<span style="position:absolute;white-space:nowrap;font-family:'Liberation Sans',sans-serif;font-size:13.62px;line-height:13.62px;font-weight:normal;color:#222;left:401.76px;top:530.42px;transform:scaleX(0.6864);transform-origin:0 0">1+</span>
<div style="position:absolute;left:436px;top:494px;width:54px;height:27px;background:#13a03e"></div>
<div style="position:absolute;left:436px;top:494px;width:54px;height:4px;background:#5fb97d"></div>
<span style="position:absolute;white-space:nowrap;font-family:'Liberation Sans',sans-serif;font-size:12.32px;line-height:12.32px;font-weight:normal;color:#fff;left:459.90px;top:501.33px;transform:scaleX(0.9286);transform-origin:0 0">4</span>
<div style="position:absolute;left:436px;top:522px;width:54px;height:14px;background:#efefef"></div>
<div style="position:absolute;left:435px;top:494px;width:1px;height:42px;background:#d6d6d6"></div>
<span style="position:absolute;white-space:nowrap;font-family:'Liberation Sans',sans-serif;font-size:13.62px;line-height:13.62px;font-weight:normal;color:#222;left:457.46px;top:530.42px;transform:scaleX(0.6864);transform-origin:0 0">1+</span>
<div style="position:absolute;left:491px;top:494px;width:55px;height:27px;background:#13a03e"></div>
<div style="position:absolute;left:491px;top:494px;width:55px;height:4px;background:#5fb97d"></div>
<span style="position:absolute;white-space:nowrap;font-family:'Liberation Sans',sans-serif;font-size:12.32px;line-height:12.32px;font-weight:normal;color:#fff;left:515.60px;top:501.33px;transform:scaleX(0.9286);transform-origin:0 0">4</span>
<div style="position:absolute;left:491px;top:522px;width:55px;height:14px;background:#efefef"></div>
<div style="position:absolute;left:490px;top:494px;width:1px;height:42px;background:#d6d6d6"></div>
<span style="position:absolute;white-space:nowrap;font-family:'Liberation Sans',sans-serif;font-size:13.62px;line-height:13.62px;font-weight:normal;color:#222;left:513.16px;top:530.42px;transform:scaleX(0.6864);transform-origin:0 0">1+</span>
<div style="position:absolute;left:547px;top:494px;width:55px;height:27px;background:#13a03e"></div>
<div style="position:absolute;left:547px;top:494px;width:55px;height:4px;background:#5fb97d"></div>
<span style="position:absolute;white-space:nowrap;font-family:'Liberation Sans',sans-serif;font-size:12.32px;line-height:12.32px;font-weight:normal;color:#fff;left:571.30px;top:501.33px;transform:scaleX(0.9286);transform-origin:0 0">4</span>
<div style="position:absolute;left:546px;top:494px;width:1px;height:42px;background:#d6d6d6"></div>
<span style="position:absolute;white-space:nowrap;font-family:'Liberation Sans',sans-serif;font-size:13.62px;line-height:13.62px;font-weight:normal;color:#222;left:568.86px;top:530.42px;transform:scaleX(0.6864);transform-origin:0 0">1+</span>
<div style="position:absolute;left:603px;top:494px;width:55px;height:27px;background:#13a03e"></div>
<div style="position:absolute;left:603px;top:494px;width:55px;height:4px;background:#5fb97d"></div>
<span style="position:absolute;white-space:nowrap;font-family:'Liberation Sans',sans-serif;font-size:12.32px;line-height:12.32px;font-weight:normal;color:#fff;left:627.00px;top:501.33px;transform:scaleX(0.9286);transform-origin:0 0">4</span>
<div style="position:absolute;left:602px;top:494px;width:1px;height:42px;background:#d6d6d6"></div>
<span style="position:absolute;white-space:nowrap;font-family:'Liberation Sans',sans-serif;font-size:13.62px;line-height:13.62px;font-weight:normal;color:#222;left:624.56px;top:530.42px;transform:scaleX(0.6864);transform-origin:0 0">1+</span>
<div style="position:absolute;left:659px;top:494px;width:54px;height:27px;background:#13a03e"></div>
<span style="position:absolute;white-space:nowrap;font-family:'Liberation Sans',sans-serif;font-size:12.32px;line-height:12.32px;font-weight:normal;color:#fff;left:682.70px;top:501.33px;transform:scaleX(0.9286);transform-origin:0 0">4</span>
<div style="position:absolute;left:658px;top:494px;width:1px;height:42px;background:#d6d6d6"></div>
<span style="position:absolute;white-space:nowrap;font-family:'Liberation Sans',sans-serif;font-size:13.62px;line-height:13.62px;font-weight:normal;color:#222;left:680.26px;top:530.42px;transform:scaleX(0.6864);transform-origin:0 0">1+</span>
<div style="position:absolute;left:714px;top:494px;width:55px;height:27px;background:#13a03e"></div>
<span style="position:absolute;white-space:nowrap;font-family:'Liberation Sans',sans-serif;font-size:12.32px;line-height:12.32px;font-weight:normal;color:#fff;left:738.40px;top:501.33px;transform:scaleX(0.9286);transform-origin:0 0">4</span>
<div style="position:absolute;left:713px;top:494px;width:1px;height:42px;background:#d6d6d6"></div>
<span style="position:absolute;white-space:nowrap;font-family:'Liberation Sans',sans-serif;font-size:13.62px;line-height:13.62px;font-weight:normal;color:#222;left:735.96px;top:530.42px;transform:scaleX(0.6864);transform-origin:0 0">1+</span>
<div style="position:absolute;left:770px;top:494px;width:55px;height:27px;background:#13a03e"></div>
<span style="position:absolute;white-space:nowrap;font-family:'Liberation Sans',sans-serif;font-size:12.32px;line-height:12.32px;font-weight:normal;color:#fff;left:794.10px;top:501.33px;transform:scaleX(0.9286);transform-origin:0 0">4</span>
<div style="position:absolute;left:769px;top:494px;width:1px;height:42px;background:#d6d6d6"></div>
<span style="position:absolute;white-space:nowrap;font-family:'Liberation Sans',sans-serif;font-size:13.62px;line-height:13.62px;font-weight:normal;color:#222;left:791.66px;top:530.42px;transform:scaleX(0.6864);transform-origin:0 0">1+</span>
<div style="position:absolute;left:826px;top:494px;width:54px;height:27px;background:#13a03e"></div>
<span style="position:absolute;white-space:nowrap;font-family:'Liberation Sans',sans-serif;font-size:12.32px;line-height:12.32px;font-weight:normal;color:#fff;left:849.80px;top:501.33px;transform:scaleX(0.9286);transform-origin:0 0">4</span>
<div style="position:absolute;left:826px;top:522px;width:54px;height:14px;background:#efefef"></div>
<div style="position:absolute;left:825px;top:494px;width:1px;height:42px;background:#d6d6d6"></div>
<span style="position:absolute;white-space:nowrap;font-family:'Liberation Sans',sans-serif;font-size:13.62px;line-height:13.62px;font-weight:normal;color:#222;left:847.36px;top:530.42px;transform:scaleX(0.6864);transform-origin:0 0">1+</span>
<div style="position:absolute;left:881px;top:494px;width:55px;height:27px;background:#13a03e"></div>
<span style="position:absolute;white-space:nowrap;font-family:'Liberation Sans',sans-serif;font-size:12.32px;line-height:12.32px;font-weight:normal;color:#fff;left:905.50px;top:501.33px;transform:scaleX(0.9286);transform-origin:0 0">4</span>
<div style="position:absolute;left:881px;top:522px;width:55px;height:14px;background:#efefef"></div>
<div style="position:absolute;left:880px;top:494px;width:1px;height:42px;background:#d6d6d6"></div>
<span style="position:absolute;white-space:nowrap;font-family:'Liberation Sans',sans-serif;font-size:13.62px;line-height:13.62px;font-weight:normal;color:#222;left:903.06px;top:530.42px;transform:scaleX(0.6864);transform-origin:0 0">1+</span>
<div style="position:absolute;left:658px;top:153px;width:229px;height:373px;box-sizing:border-box;background:#fff;border:1px solid #a9a9a9;border-radius:0 4px 4px 4px"></div>
<span style="position:absolute;white-space:nowrap;font-family:'Liberation Sans',sans-serif;font-size:15.07px;line-height:15.07px;font-weight:normal;color:#222;left:703.00px;top:170.19px;transform:scaleX(0.7954);transform-origin:0 0">AutoPilot Close Availability</span>
<div style="position:absolute;left:681px;top:174px;line-height:0"><svg width="11" height="10" viewBox="0 0 11 10"><path d="M1.5 1 L9.5 9 M9.5 1 L1.5 9" stroke="#e63f5c" stroke-width="2.6"/></svg></div>
<span style="position:absolute;white-space:nowrap;font-family:'Liberation Sans',sans-serif;font-size:15.07px;line-height:15.07px;font-weight:normal;color:#8a8a8a;left:703.00px;top:206.39px;transform:scaleX(0.7973);transform-origin:0 0">AutoPilot Open Availability</span>
<div style="position:absolute;left:681px;top:210px;line-height:0"><svg width="11" height="10" viewBox="0 0 11 10"><path d="M1.5 1 L9.5 9 M9.5 1 L1.5 9" stroke="#f3a2b3" stroke-width="2.6"/></svg></div>
<span style="position:absolute;white-space:nowrap;font-family:'Liberation Sans',sans-serif;font-size:15.07px;line-height:15.07px;font-weight:normal;color:#222;left:703.00px;top:242.59px;transform:scaleX(0.7854);transform-origin:0 0">Copy previous year</span>
<div style="position:absolute;left:676px;top:240px;line-height:0"><svg width="20" height="18" viewBox="0 0 20 18"><path d="M9 3.3 H13.2 A0.6 0.6 0 0 1 13.8 3.9 V13 A0.6 0.6 0 0 1 13.2 13.6 H5.6 A0.6 0.6 0 0 1 5 13 V7.3 Z" fill="#fff" stroke="#111" stroke-width="1.3" stroke-linejoin="round"/><path d="M5 7.3 H8.2 A0.8 0.8 0 0 0 9 6.5 V3.3" fill="none" stroke="#111" stroke-width="1.2"/><path d="M13.7 6.3 H17.7 A0.6 0.6 0 0 1 18.3 6.9 V15.8 A0.6 0.6 0 0 1 17.7 16.4 H10.3 A0.6 0.6 0 0 1 9.7 15.8 V10.3 Z" fill="#fff" stroke="#111" stroke-width="1.3" stroke-linejoin="round"/><path d="M9.7 10.3 H12.9 A0.8 0.8 0 0 0 13.7 9.5 V6.3" fill="none" stroke="#111" stroke-width="1.2"/></svg></div>
<span style="position:absolute;white-space:nowrap;font-family:'Liberation Sans',sans-serif;font-size:15.07px;line-height:15.07px;font-weight:normal;color:#222;left:703.00px;top:278.79px;transform:scaleX(0.7844);transform-origin:0 0">Advanced icons</span>
<div style="position:absolute;left:676px;top:277px;line-height:0"><svg width="19" height="18" viewBox="0 0 19 18"><path d="M7.5 3.2 V14.2" stroke="#111" stroke-width="1.5"/><path d="M4.9 13.4 L7.5 16.6 L10.1 13.4 Z" fill="#111"/><text x="14.5" y="8.8" font-family="Liberation Serif" font-weight="bold" font-size="8.3" text-anchor="middle" fill="#111">A</text><text x="14.5" y="16.6" font-family="Liberation Serif" font-weight="bold" font-size="8.3" text-anchor="middle" fill="#111">Z</text></svg></div>
<span style="position:absolute;white-space:nowrap;font-family:'Liberation Sans',sans-serif;font-size:15.07px;line-height:15.07px;font-weight:normal;color:#222;left:702.20px;top:314.99px;transform:scaleX(0.7992);transform-origin:0 0">Export calendar to Excel</span>
<div style="position:absolute;left:680px;top:315px;line-height:0"><svg width="14" height="13" viewBox="0 0 14 13"><path d="M5.3 0.7 H8.7 V5 H10.9 L7 8.6 L3.1 5 H5.3 Z" fill="#111"/><path d="M0.8 8.9 H4.6 L7 11.2 L9.4 8.9 H13.5 V12.7 H0.8 Z" fill="#111"/><rect x="9.6" y="10.6" width="2.6" height="0.8" fill="#fff"/></svg></div>
<span style="position:absolute;white-space:nowrap;font-family:'Liberation Sans',sans-serif;font-size:15.07px;line-height:15.07px;font-weight:normal;color:#222;left:702.18px;top:351.19px;transform:scaleX(0.8190);transform-origin:0 0">Import calendar from Excel</span>
<div style="position:absolute;left:680px;top:352px;line-height:0"><svg width="14" height="14" viewBox="0 0 14 14"><path d="M5.3 9.6 H8.7 V4.6 H10.9 L7 0.6 L3.1 4.6 H5.3 Z" fill="#111"/><path d="M0.8 9.1 H4.4 V10.6 H9.6 V9.1 H13.5 V13 H0.8 Z" fill="#111"/><rect x="9.6" y="11" width="2.6" height="0.8" fill="#fff"/></svg></div>
<span style="position:absolute;white-space:nowrap;font-family:'Liberation Sans',sans-serif;font-size:15.07px;line-height:15.07px;font-weight:normal;color:#222;left:703.00px;top:387.39px;transform:scaleX(0.7963);transform-origin:0 0">Synchronize channel manager</span>
<div style="position:absolute;left:680px;top:389px;line-height:0"><svg width="15" height="11" viewBox="0 0 15 11"><path d="M2.5 3.3 H10" stroke="#111" stroke-width="1.8" stroke-linecap="round"/><path d="M3.6 1.3 L0.8 3.3 L3.6 5.3 Z" fill="#111" stroke="#111" stroke-width="0.8" stroke-linejoin="round"/><path d="M5 8 H12.5" stroke="#111" stroke-width="1.8" stroke-linecap="round"/><path d="M11.4 6 L14.2 8 L11.4 10 Z" fill="#111" stroke="#111" stroke-width="0.8" stroke-linejoin="round"/></svg></div>
<span style="position:absolute;white-space:nowrap;font-family:'Liberation Sans',sans-serif;font-size:15.07px;line-height:15.07px;font-weight:normal;color:#222;left:702.20px;top:423.59px;transform:scaleX(0.8035);transform-origin:0 0">History of changes</span>
<div style="position:absolute;left:680.5px;top:426px;line-height:0"><svg width="15" height="12" viewBox="0 0 15 12"><rect x="3.5" y="0" width="7" height="0.9" fill="#111"/><rect x="2.3" y="1.5" width="9.5" height="1.4" fill="#111"/><path d="M0.5 3.4 H13.5 V10.2 A1 1 0 0 1 12.5 11 H1.5 A1 1 0 0 1 0.5 10.2 Z" fill="#111"/><path d="M3.6 5.6 H5.8 L6.3 6.2 H7.8 L8.3 5.6 H8.8 V7.4 H3.6 Z" fill="#fff"/></svg></div>
<span style="position:absolute;white-space:nowrap;font-family:'Liberation Sans',sans-serif;font-size:15.07px;line-height:15.07px;font-weight:normal;color:#222;left:702.21px;top:459.79px;transform:scaleX(0.7943);transform-origin:0 0">Processes history</span>
<div style="position:absolute;left:680px;top:460px;line-height:0"><svg width="16" height="15" viewBox="0 0 16 15"><g fill="#111"><circle cx="5.5" cy="8" r="3.6"/><rect x="4.70" y="3.40" width="1.6" height="9.20" transform="rotate(0.0 5.5 8)"/><rect x="4.70" y="3.40" width="1.6" height="9.20" transform="rotate(45.0 5.5 8)"/><rect x="4.70" y="3.40" width="1.6" height="9.20" transform="rotate(90.0 5.5 8)"/><rect x="4.70" y="3.40" width="1.6" height="9.20" transform="rotate(135.0 5.5 8)"/></g><circle cx="5.5" cy="8" r="1.4" fill="#fff"/><g fill="#111"><circle cx="12.6" cy="3.6" r="1.9"/><rect x="12.05" y="0.90" width="1.1" height="5.40" transform="rotate(0.0 12.6 3.6)"/><rect x="12.05" y="0.90" width="1.1" height="5.40" transform="rotate(60.0 12.6 3.6)"/><rect x="12.05" y="0.90" width="1.1" height="5.40" transform="rotate(120.0 12.6 3.6)"/></g><circle cx="12.6" cy="3.6" r="0.75" fill="#fff"/><g fill="#111"><circle cx="12.6" cy="11.8" r="1.9"/><rect x="12.05" y="9.10" width="1.1" height="5.40" transform="rotate(0.0 12.6 11.8)"/><rect x="12.05" y="9.10" width="1.1" height="5.40" transform="rotate(60.0 12.6 11.8)"/><rect x="12.05" y="9.10" width="1.1" height="5.40" transform="rotate(120.0 12.6 11.8)"/></g><circle cx="12.6" cy="11.8" r="0.75" fill="#fff"/></svg></div>
<span style="position:absolute;white-space:nowrap;font-family:'Liberation Sans',sans-serif;font-size:15.07px;line-height:15.07px;font-weight:normal;color:#222;left:702.24px;top:495.99px;transform:scaleX(0.7565);transform-origin:0 0">Event</span>
<div style="position:absolute;left:680px;top:496px;line-height:0"><svg width="14" height="14" viewBox="0 0 14 14"><path d="M0.3 2.2 H13.7 V13.7 H0.3 Z" fill="#222"/><rect x="2.6" y="0" width="2" height="3.5" rx="0.7" fill="#222"/><rect x="9.4" y="0" width="2" height="3.5" rx="0.7" fill="#222"/><g fill="#fff"><rect x="1.3" y="5" width="2.5" height="2"/><rect x="4.5" y="5" width="2.5" height="2"/><rect x="7.7" y="5" width="2.5" height="2"/><rect x="10.9" y="5" width="1.8" height="2"/><rect x="1.3" y="7.8" width="2.5" height="2"/><rect x="4.5" y="7.8" width="2.5" height="2"/><rect x="7.7" y="7.8" width="2.5" height="2"/><rect x="10.9" y="7.8" width="1.8" height="2"/><rect x="1.3" y="10.6" width="2.5" height="2"/><rect x="4.5" y="10.6" width="2.5" height="2"/><rect x="7.7" y="10.6" width="2.5" height="2"/><rect x="10.9" y="10.6" width="1.8" height="2"/></g></svg></div>
<div style="position:absolute;left:661px;top:408px;width:154px;height:45px;box-sizing:border-box;border:3px solid #e94b25;border-radius:2px"></div>
</body></html>
